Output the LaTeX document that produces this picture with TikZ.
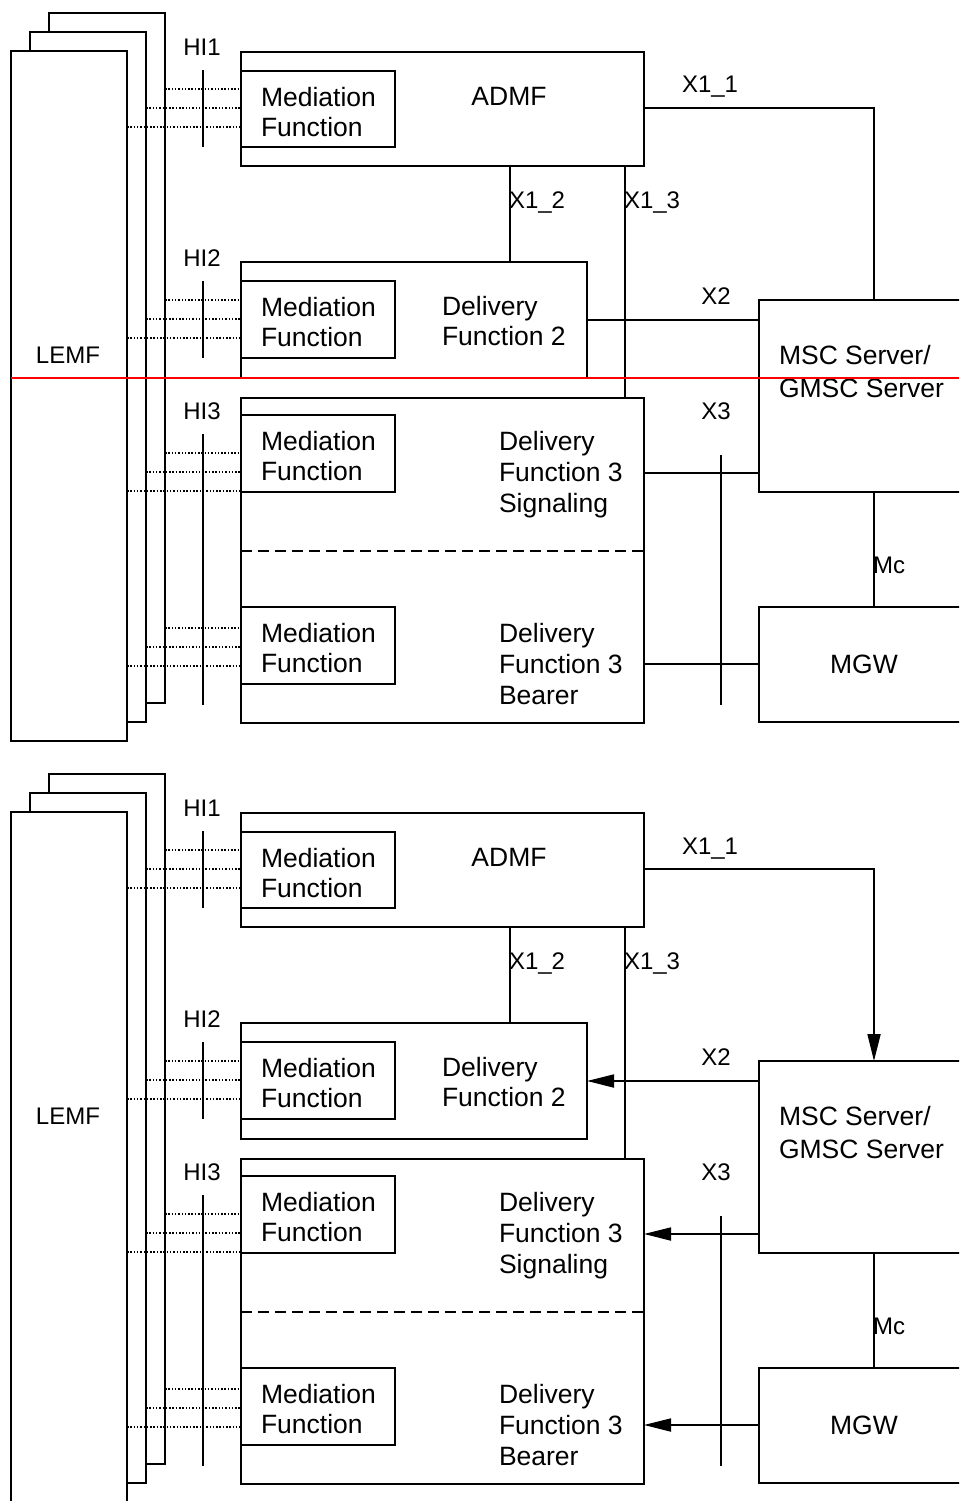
\documentclass[tikz,border=0pt]{standalone}
\usepackage{fontspec}
\setmainfont{Liberation Sans}
\usetikzlibrary{arrows.meta}
\tikzset{
  box/.style={draw, fill=white, line width=1.8pt, inner sep=0pt, outer sep=0pt, anchor=north west},
  txt/.style={inner sep=0pt, outer sep=0pt, align=left, font=\fontsize{26.5}{30}\selectfont},
  txtb/.style={txt, font=\fontsize{26.5}{31}\selectfont},
  txtc/.style={txt, font=\fontsize{26.5}{32.5}\selectfont},
  lab/.style={txt, font=\fontsize{24}{28}\selectfont},
  link/.style={line width=1.8pt},
  hiline/.style={line width=1.4pt, dash pattern=on 1.5pt off 1.8pt},
  sepline/.style={line width=1.8pt, dash pattern=on 11pt off 6pt},
  tip/.style={-{Triangle[length=27pt,width=13pt]}},
  redline/.style={line width=1.6pt, draw=red},
}
\newcommand\rectnode[5]{\node[box, minimum width={(#4-(#2))*1pt}, minimum height={(#5-(#3))*1pt}] (#1) at (#2,{#3}) {};}
\newcommand\oneview[4]{%
  % LEMF stack
  \rectnode{lemfC#2}{49}{#1+13}{165}{#1+703}
  \rectnode{lemfB#2}{30}{#1+32}{146}{#1+722}
  \rectnode{lemfA#2}{11}{#1+51}{127}{#4}
  % main boxes
  \rectnode{admf#2}{241}{#1+52}{644}{#1+166}
  \rectnode{mfa#2}{241}{#1+71}{395}{#1+147}
  \rectnode{df2#2}{241}{#1+262}{587}{#1+378}
  \rectnode{mfb#2}{241}{#1+281}{395}{#1+358}
  \rectnode{df3#2}{241}{#1+398}{644}{#1+723}
  \rectnode{mfc#2}{241}{#1+415}{395}{#1+492}
  \rectnode{mfd#2}{241}{#1+607}{395}{#1+684}
  \rectnode{msc#2}{759}{#1+300}{989}{#1+492}
  \rectnode{mgw#2}{759}{#1+607}{989}{#1+722}
  % texts (base anchor = baseline of last line)
  \node[lab, anchor=center] (tlemf#2) at (68,{#1+355}) {LEMF};
  \node[lab, anchor=center] (thia#2) at (202,{#1+47}) {HI1};
  \node[lab, anchor=center] (thib#2) at (202,{#1+258}) {HI2};
  \node[lab, anchor=center] (thic#2) at (202,{#1+411}) {HI3};
  \node[txt, anchor=base west] (tmfa#2) at (261,{#1+136}) {Mediation\\Function};
  \node[txt, anchor=base west] (tmfb#2) at (261,{#1+346}) {Mediation\\Function};
  \node[txt, anchor=base west] (tmfc#2) at (261,{#1+480}) {Mediation\\Function};
  \node[txt, anchor=base west] (tmfd#2) at (261,{#1+672}) {Mediation\\Function};
  \node[txt, anchor=center] (tadmf#2) at (509,{#1+96}) {ADMF};
  \node[txt, anchor=base west] (tdf2#2) at (442,{#1+345}) {Delivery\\Function 2};
  \node[txtb, anchor=base west] (tdfs#2) at (499,{#1+512}) {Delivery\\Function 3\\Signaling};
  \node[txtb, anchor=base west] (tdfb#2) at (499,{#1+704}) {Delivery\\Function 3\\Bearer};
  \node[txtc, anchor=base west] (tmsc#2) at (779,{#1+397}) {MSC Server/\\GMSC Server};
  \node[txt, anchor=center] (tmgw#2) at (864,{#1+664}) {MGW};
  \node[lab, anchor=base west] (tx11#2) at (682,{#1+93}) {X1\_1};
  \node[lab, anchor=base west] (tx12#2) at (509,{#1+208}) {X1\_2};
  \node[lab, anchor=base west] (tx13#2) at (624,{#1+208}) {X1\_3};
  \node[lab, anchor=center] (tx2#2) at (716,{#1+296}) {X2};
  \node[lab, anchor=center] (tx3#2) at (716,{#1+411}) {X3};
  \node[lab, anchor=base west] (tmc#2) at (873,{#1+573}) {Mc};
  % helper coordinates
  \coordinate (ha1#2) at (0,{#1+89});
  \coordinate (ha2#2) at (0,{#1+108});
  \coordinate (ha3#2) at (0,{#1+127});
  \coordinate (hb1#2) at (0,{#1+300});
  \coordinate (hb2#2) at (0,{#1+319});
  \coordinate (hb3#2) at (0,{#1+338});
  \coordinate (hc1#2) at (0,{#1+453});
  \coordinate (hc2#2) at (0,{#1+472});
  \coordinate (hc3#2) at (0,{#1+491});
  \coordinate (hd1#2) at (0,{#1+628});
  \coordinate (hd2#2) at (0,{#1+647});
  \coordinate (hd3#2) at (0,{#1+666});
  \coordinate (tka1#2) at (203,{#1+70});
  \coordinate (tka2#2) at (203,{#1+147});
  \coordinate (tkb1#2) at (203,{#1+281});
  \coordinate (tkb2#2) at (203,{#1+358});
  \coordinate (tkc1#2) at (203,{#1+434});
  \coordinate (tkc2#2) at (203,{#1+705});
  \coordinate (tkx1#2) at (721,{#1+455});
  \coordinate (tkx2#2) at (721,{#1+705});
  \coordinate (x11#2) at (0,{#1+108});
  \coordinate (x12#2) at (510,0);
  \coordinate (x13#2) at (625,0);
  \coordinate (x3s#2) at (0,{#1+473});
  \coordinate (x3b#2) at (0,{#1+664});
  \coordinate (sep#2) at (0,{#1+551});
  % HI interfaces
  \draw[hiline] (lemfC#2.east |- ha1#2) -- (mfa#2.west |- ha1#2);
  \draw[hiline] (lemfB#2.east |- ha2#2) -- (mfa#2.west |- ha2#2);
  \draw[hiline] (lemfA#2.east |- ha3#2) -- (mfa#2.west |- ha3#2);
  \draw[hiline] (lemfC#2.east |- hb1#2) -- (mfb#2.west |- hb1#2);
  \draw[hiline] (lemfB#2.east |- hb2#2) -- (mfb#2.west |- hb2#2);
  \draw[hiline] (lemfA#2.east |- hb3#2) -- (mfb#2.west |- hb3#2);
  \draw[hiline] (lemfC#2.east |- hc1#2) -- (mfc#2.west |- hc1#2);
  \draw[hiline] (lemfB#2.east |- hc2#2) -- (mfc#2.west |- hc2#2);
  \draw[hiline] (lemfA#2.east |- hc3#2) -- (mfc#2.west |- hc3#2);
  \draw[hiline] (lemfC#2.east |- hd1#2) -- (mfd#2.west |- hd1#2);
  \draw[hiline] (lemfB#2.east |- hd2#2) -- (mfd#2.west |- hd2#2);
  \draw[hiline] (lemfA#2.east |- hd3#2) -- (mfd#2.west |- hd3#2);
  \draw[link] (tka1#2) -- (tka2#2);
  \draw[link] (tkb1#2) -- (tkb2#2);
  \draw[link] (tkc1#2) -- (tkc2#2);
  \draw[link] (tkx1#2) -- (tkx2#2);
  % separator in DF3
  \draw[sepline] (df3#2.west |- sep#2) -- (df3#2.east |- sep#2);
  % X interfaces
  \draw[link,#3] (admf#2.east |- x11#2) -| (msc#2.north);
  \draw[link] (admf#2.south -| x12#2) -- (df2#2.north -| x12#2);
  \draw[link] (admf#2.south -| x13#2) -- (df3#2.north -| x13#2);
  \draw[link,#3] (msc#2.west |- df2#2.east) -- (df2#2.east);
  \draw[link,#3] (msc#2.west |- x3s#2) -- (df3#2.east |- x3s#2);
  \draw[link,#3] (mgw#2.west |- x3b#2) -- (df3#2.east |- x3b#2);
  \draw[link] (msc#2.south) -- (mgw#2.north);
}
\begin{document}
\begin{tikzpicture}[x=1pt,y=-1pt]
  \useasboundingbox (0,0) rectangle (959,1501);
  \clip (0,0) rectangle (959,1501);
  \oneview{0}{1}{}{741}
  \oneview{761}{2}{tip}{1620}
  \coordinate (reda) at (11,378);
  \coordinate (redb) at (959,378);
  \draw[redline] (reda) -- (redb);
\end{tikzpicture}
\end{document}
